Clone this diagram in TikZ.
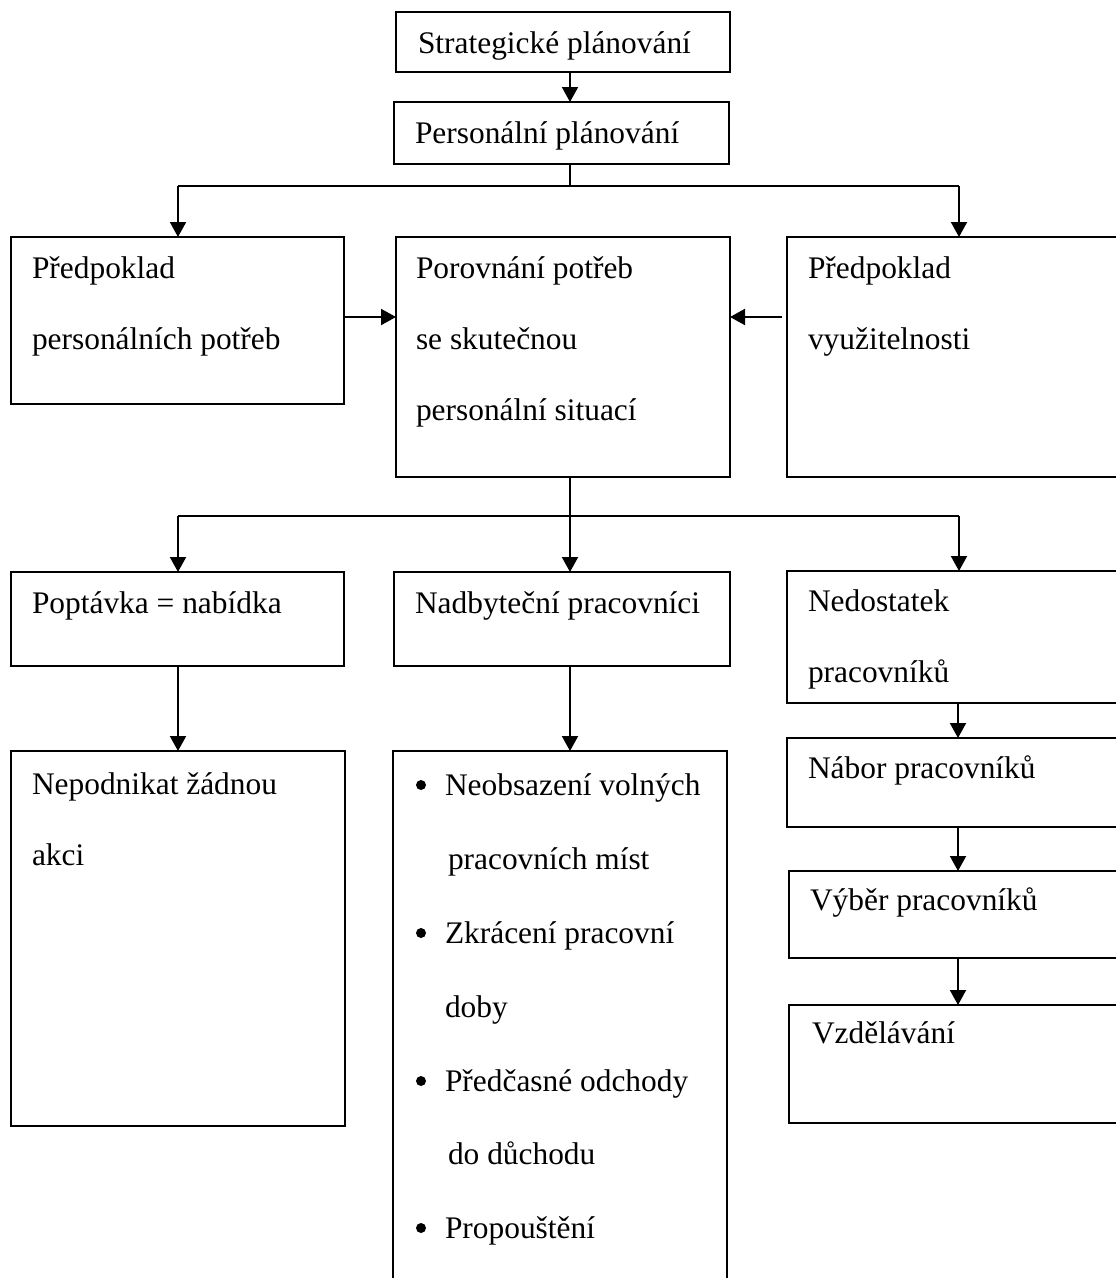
\documentclass[tikz,border=0pt]{standalone}
\usepackage{fontspec}
\setmainfont{Liberation Serif}
\usetikzlibrary{arrows.meta}
\tikzset{
  box/.style={draw, line width=2pt, rectangle, inner sep=0pt, outer sep=0pt, anchor=north west},
  txt/.style={inner sep=0pt, outer sep=0pt, anchor=base west, font=\fontsize{31.4}{36}\selectfont},
  bul/.style={circle, fill, draw=none, inner sep=0pt, outer sep=0pt, minimum size=10pt},
  arr/.style={line width=2pt, -{Triangle[width=16pt,length=15pt]}},
  ln/.style={line width=2pt}
}
\begin{document}
\begin{tikzpicture}[x=1pt,y=-1pt]
\useasboundingbox (0,0) rectangle (1116,1278);
\clip (0,0) rectangle (1116,1278);
% boxes
\node[box, minimum width=334pt, minimum height=60pt] (b1) at (396,12) {};
\node[box, minimum width=335pt, minimum height=62pt] (b2) at (394,102) {};
\node[box, minimum width=333pt, minimum height=167pt] (l2) at (11,237) {};
\node[box, minimum width=334pt, minimum height=240pt] (m2) at (396,237) {};
\node[box, minimum width=340pt, minimum height=240pt] (r2) at (787,237) {};
\node[box, minimum width=333pt, minimum height=94pt] (l3) at (11,572) {};
\node[box, minimum width=336pt, minimum height=94pt] (m3) at (394,572) {};
\node[box, minimum width=340pt, minimum height=132pt] (r3) at (787,571) {};
\node[box, minimum width=334pt, minimum height=375pt] (l4) at (11,751) {};
\node[box, minimum width=334pt, minimum height=560pt] (m4) at (393,751) {};
\node[box, minimum width=340pt, minimum height=89pt] (r4) at (787,738) {};
\node[box, minimum width=338pt, minimum height=87pt] (r5) at (789,871) {};
\node[box, minimum width=338pt, minimum height=118pt] (r6) at (789,1005) {};
% texts
\node[txt] (tb1) at (418,53) {Strategické plánování};
\node[txt] (tb2) at (415,143) {Personální plánování};
\node[txt] (tl2a) at (32,278) {Předpoklad};
\node[txt] (tl2b) at (32,349) {personálních potřeb};
\node[txt] (tm2a) at (416,278) {Porovnání potřeb};
\node[txt] (tm2b) at (416,349) {se skutečnou};
\node[txt] (tm2c) at (416,420) {personální situací};
\node[txt] (tr2a) at (808,278) {Předpoklad};
\node[txt] (tr2b) at (808,349) {využitelnosti};
\node[txt] (tl3) at (32,613) {Poptávka = nabídka};
\node[txt] (tm3) at (415,613) {Nadbyteční pracovníci};
\node[txt] (tr3a) at (808,611) {Nedostatek};
\node[txt] (tr3b) at (808,682) {pracovníků};
\node[txt] (tl4a) at (32,794) {Nepodnikat žádnou};
\node[txt] (tl4b) at (32,865) {akci};
\node[bul] (u1) at (421,785) {};
\node[txt] (tm4a) at (445,795) {Neobsazení volných};
\node[txt] (tm4b) at (448,869) {pracovních míst};
\node[bul] (u2) at (421,933) {};
\node[txt] (tm4c) at (445,943) {Zkrácení pracovní};
\node[txt] (tm4d) at (445,1017) {doby};
\node[bul] (u3) at (421,1081) {};
\node[txt] (tm4e) at (445,1091) {Předčasné odchody};
\node[txt] (tm4f) at (448,1164) {do důchodu};
\node[bul] (u4) at (421,1228) {};
\node[txt] (tm4g) at (445,1238) {Propouštění};
\node[txt] (tr4) at (808,778) {Nábor pracovníků};
\node[txt] (tr5) at (810,910) {Výběr pracovníků};
\node[txt] (tr6) at (812,1043) {Vzdělávání};
% junction coordinates
\coordinate (c1) at (570,186);
\coordinate (c1l) at (178,186);
\coordinate (c1r) at (959,186);
\coordinate (c2) at (570,516);
\coordinate (c2l) at (178,516);
\coordinate (c2r) at (959,516);
\coordinate (cr) at (958,0);
\coordinate (ya) at (0,317);
% connectors
\draw[arr] (b1.south -| c1) -- (b2.north -| c1);
\draw[ln] (b2.south -| c1) -- (c1);
\draw[ln] (c1l) -- (c1r);
\draw[arr] (c1l) -- (l2.north -| c1l);
\draw[arr] (c1r) -- (r2.north -| c1r);
\draw[arr] (l2.east |- ya) -- (m2.west |- ya);
\draw[arr] ([xshift=-5pt]r2.west |- ya) -- (m2.east |- ya);
\draw[ln] (m2.south -| c2) -- (c2);
\draw[ln] (c2l) -- (c2r);
\draw[arr] (c2l) -- (l3.north -| c2l);
\draw[arr] (c2) -- (m3.north -| c2);
\draw[arr] (c2r) -- (r3.north -| c2r);
\draw[arr] (l3.south -| c2l) -- (l4.north -| c2l);
\draw[arr] (m3.south -| c2) -- (m4.north -| c2);
\draw[arr] (r3.south -| cr) -- (r4.north -| cr);
\draw[arr] (r4.south -| cr) -- (r5.north -| cr);
\draw[arr] (r5.south -| cr) -- (r6.north -| cr);
\end{tikzpicture}
\end{document}
